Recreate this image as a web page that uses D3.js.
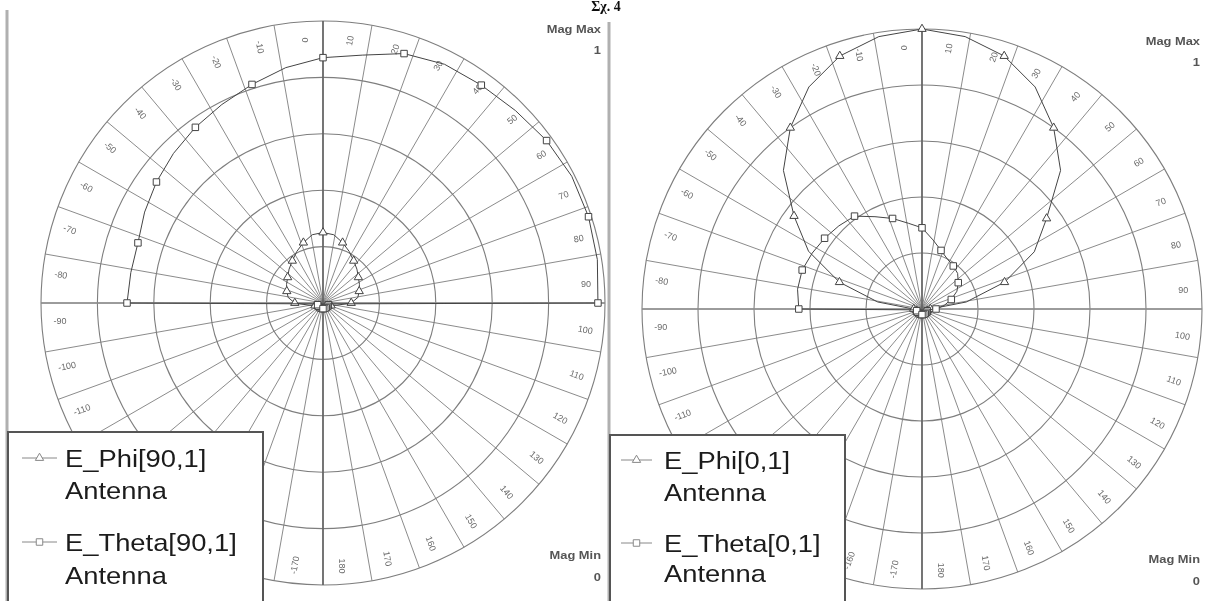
<!DOCTYPE html>
<html>
<head>
<meta charset="utf-8">
<script src="https://cdn.jsdelivr.net/npm/d3@7"></script>
<style>
  html, body { margin: 0; padding: 0; background: #fff; }
  svg { display: block; }
</style>
</head>
<body>
<svg id="chart" width="1208" height="601"></svg>
<script>
// Sweep angle (deg) shared by all traces
const thetaDeg = [-180,-171,-162,-153,-144,-135,-126,-117,-108,-99,
                  -90,-81,-72,-63,-54,-45,-36,-27,-18,-9,0,9,18,27,36,45,54,63,72,81,90,
                  99,108,117,126,135,144,153,162,171,180];

// Phi = 90 deg cut
const ePhi90   = [0.02,0.02,0.02,0.02,0.02,0.02,0.02,0.02,0.03,0.05,
                  0.10,0.125,0.135,0.145,0.155,0.17,0.185,0.205,0.225,0.245,0.25,
                  0.245,0.225,0.205,0.185,0.17,0.155,0.145,0.135,0.125,0.10,
                  0.05,0.03,0.02,0.02,0.02,0.02,0.02,0.02,0.02,0.02];
const eTheta90 = [0.02,0.02,0.02,0.02,0.02,0.02,0.02,0.02,0.02,0.02,
                  0.695,0.69,0.69,0.71,0.73,0.75,0.77,0.79,0.815,0.845,0.87,
                  0.89,0.93,0.95,0.955,0.965,0.98,0.99,0.99,0.985,0.975,
                  0.02,0.02,0.02,0.02,0.02,0.02,0.02,0.02,0.02,0.02];

// Phi = 0 deg cut
const ePhi0    = [0.02,0.02,0.02,0.02,0.02,0.02,0.02,0.02,0.02,0.02,
                  0.03,0.16,0.31,0.455,0.565,0.70,0.80,0.89,0.95,0.985,1.00,
                  0.985,0.95,0.89,0.80,0.70,0.55,0.45,0.31,0.16,0.03,
                  0.02,0.02,0.02,0.02,0.02,0.02,0.02,0.02,0.02,0.02];
const eTheta0  = [0.02,0.02,0.02,0.02,0.02,0.02,0.02,0.02,0.02,0.02,
                  0.44,0.45,0.45,0.44,0.43,0.42,0.41,0.37,0.34,0.31,0.29,
                  0.25,0.22,0.20,0.19,0.18,0.16,0.14,0.11,0.08,0.05,
                  0.02,0.02,0.02,0.02,0.02,0.02,0.02,0.02,0.02,0.02];

// Grid: magnitude rings and angular tick labels
const magRings = [0.2, 0.4, 0.6, 0.8, 1.0];
const angleTicks = [-170,-160,-150,-140,-130,-120,-110,-100,-90,-80,-70,-60,-50,-40,-30,-20,-10,
                    0,10,20,30,40,50,60,70,80,90,100,110,120,130,140,150,160,170,180];

const legendNames90 = ["E_Phi[90,1]", "E_Theta[90,1]"];
const legendNames0  = ["E_Phi[0,1]", "E_Theta[0,1]"];
const sourceName = "Antenna";
const magMaxText = ["Mag Max", "1"];
const magMinText = ["Mag Min", "0"];
const figureTitle = "Σχ. 4";

const svg = d3.select("#chart");
svg.append("rect").attr("width", 1208).attr("height", 601).attr("fill", "#fff");

const defs = svg.append("defs");
defs.append("filter").attr("id", "soft")
  .attr("x", "-5%").attr("y", "-5%").attr("width", "110%").attr("height", "110%")
  .append("feGaussianBlur").attr("stdDeviation", 0.7);

const root = svg.append("g").attr("filter", "url(#soft)");

// Figure caption at the top edge
root.append("text")
  .attr("x", 606).attr("y", 11)
  .attr("text-anchor", "middle")
  .attr("font-family", "Liberation Serif, serif")
  .attr("font-weight", "bold")
  .attr("font-size", 14)
  .attr("fill", "#111")
  .text(figureTitle);

const panels = [
  {
    edgeX: 7, edgeY: 10,
    cx: 323, cy: 303, R: 282,
    phi: ePhi90, theta: eTheta90, names: legendNames90,
    legend: {x: 8, y: 432, w: 255, h: 180, lineX: [22, 57], textX: 65, rows: [458, 490, 542, 575]},
    magMax: {x: 601, y: 33}, magMin: {x: 601, y: 559}
  },
  {
    edgeX: 609, edgeY: 22,
    cx: 922, cy: 309, R: 280,
    phi: ePhi0, theta: eTheta0, names: legendNames0,
    legend: {x: 610, y: 435, w: 235, h: 180, lineX: [621, 652], textX: 664, rows: [460, 492, 543, 573]},
    magMax: {x: 1200, y: 45}, magMin: {x: 1200, y: 563}
  }
];

const gridColor = "#7e7e7e";
const traceColor = "#444";
const sansFont = "Liberation Sans, Arial, sans-serif";

panels.forEach(p => {
  // Panel edge
  root.append("line")
    .attr("x1", p.edgeX).attr("x2", p.edgeX)
    .attr("y1", p.edgeY).attr("y2", 601)
    .attr("stroke", "#b0b0b0").attr("stroke-width", 3);

  const g = root.append("g").attr("transform", `translate(${p.cx},${p.cy})`);
  const r = d3.scaleLinear().domain([0, 1]).range([0, p.R]);
  const ang = d3.scaleLinear().domain([-180, 180]).range([-Math.PI, Math.PI]);
  const px = (deg, v) => r(v) * Math.sin(ang(deg));
  const py = (deg, v) => -r(v) * Math.cos(ang(deg));

  // Spokes every 10 deg
  g.selectAll("line.spoke").data(d3.range(-170, 181, 10)).join("line")
    .attr("class", "spoke")
    .attr("x1", 0).attr("y1", 0)
    .attr("x2", d => px(d, 1))
    .attr("y2", d => py(d, 1))
    .attr("stroke", gridColor).attr("stroke-width", 0.9);

  // Magnitude rings
  g.selectAll("circle.ring").data(magRings).join("circle")
    .attr("class", "ring")
    .attr("r", d => r(d))
    .attr("fill", "none")
    .attr("stroke", gridColor).attr("stroke-width", 1.1);

  // Main axes
  g.append("line")
    .attr("x1", -r(1)).attr("x2", r(1)).attr("y1", 0).attr("y2", 0)
    .attr("stroke", "#8e8e8e").attr("stroke-width", 1.4);
  g.append("line")
    .attr("x1", 0).attr("x2", 0).attr("y1", -r(1)).attr("y2", r(1))
    .attr("stroke", "#626262").attr("stroke-width", 1.6);

  // Angle labels, set just counter-clockwise of each spoke
  g.selectAll("text.ang").data(angleTicks).join("text")
    .attr("class", "ang")
    .attr("transform", d => {
      const rot = d > 0 ? d - 90 : d + 90;
      return `translate(${px(d - 4, 0.935)},${py(d - 4, 0.935)}) rotate(${rot})`;
    })
    .attr("text-anchor", "middle")
    .attr("dominant-baseline", "middle")
    .attr("font-family", sansFont)
    .attr("font-size", 9)
    .attr("fill", "#6a6a6a")
    .text(d => d);

  // Traces
  const line = d3.lineRadial()
    .angle((d, i) => ang(thetaDeg[i]))
    .radius(d => r(d));

  const traces = [
    {values: p.phi, symbol: d3.symbolTriangle, size: 30},
    {values: p.theta, symbol: d3.symbolSquare, size: 42}
  ];
  traces.forEach(t => {
    g.append("path")
      .datum(t.values)
      .attr("d", line)
      .attr("fill", "none")
      .attr("stroke", traceColor).attr("stroke-width", 1);
    const pts = t.values.map((v, i) => ({v, a: thetaDeg[i]})).filter(d => d.a % 18 === 0);
    g.selectAll(null).data(pts).join("path")
      .attr("transform", d => `translate(${px(d.a, d.v)},${py(d.a, d.v)})`)
      .attr("d", d3.symbol().type(t.symbol).size(t.size))
      .attr("fill", "#fff")
      .attr("stroke", traceColor).attr("stroke-width", 1);
  });

  // Magnitude range notes
  const magStyle = sel => sel
    .attr("text-anchor", "end")
    .attr("font-family", sansFont)
    .attr("font-weight", "bold")
    .attr("font-size", 11.5)
    .attr("fill", "#555");
  const magNote = (x, y, txt) => root.append("text").call(magStyle)
    .attr("transform", `translate(${x},${y}) scale(1.12,1)`).text(txt);
  magNote(p.magMax.x, p.magMax.y, magMaxText[0]);
  magNote(p.magMax.x, p.magMax.y + 21, magMaxText[1]);
  magNote(p.magMin.x, p.magMin.y, magMinText[0]);
  magNote(p.magMin.x, p.magMin.y + 22, magMinText[1]);

  // Legend
  const Lg = p.legend;
  root.append("rect")
    .attr("x", Lg.x).attr("y", Lg.y)
    .attr("width", Lg.w).attr("height", Lg.h)
    .attr("fill", "#fff").attr("stroke", "#555").attr("stroke-width", 2);
  const legendText = (y, txt) => root.append("text")
    .attr("transform", `translate(${Lg.textX},${y + 8.5}) scale(1.14,1)`)
    .attr("font-family", sansFont)
    .attr("font-size", 24).attr("fill", "#1a1a1a").text(txt);
  p.names.forEach((name, i) => {
    const yName = Lg.rows[i * 2], yAnt = Lg.rows[i * 2 + 1];
    root.append("line")
      .attr("x1", Lg.lineX[0]).attr("x2", Lg.lineX[1]).attr("y1", yName).attr("y2", yName)
      .attr("stroke", "#888").attr("stroke-width", 1);
    root.append("path")
      .attr("transform", `translate(${(Lg.lineX[0] + Lg.lineX[1]) / 2},${yName})`)
      .attr("d", d3.symbol().type(i === 0 ? d3.symbolTriangle : d3.symbolSquare).size(i === 0 ? 30 : 42))
      .attr("fill", "#fff").attr("stroke", "#888");
    legendText(yName, name);
    legendText(yAnt, sourceName);
  });
});
</script>
</body>
</html>
